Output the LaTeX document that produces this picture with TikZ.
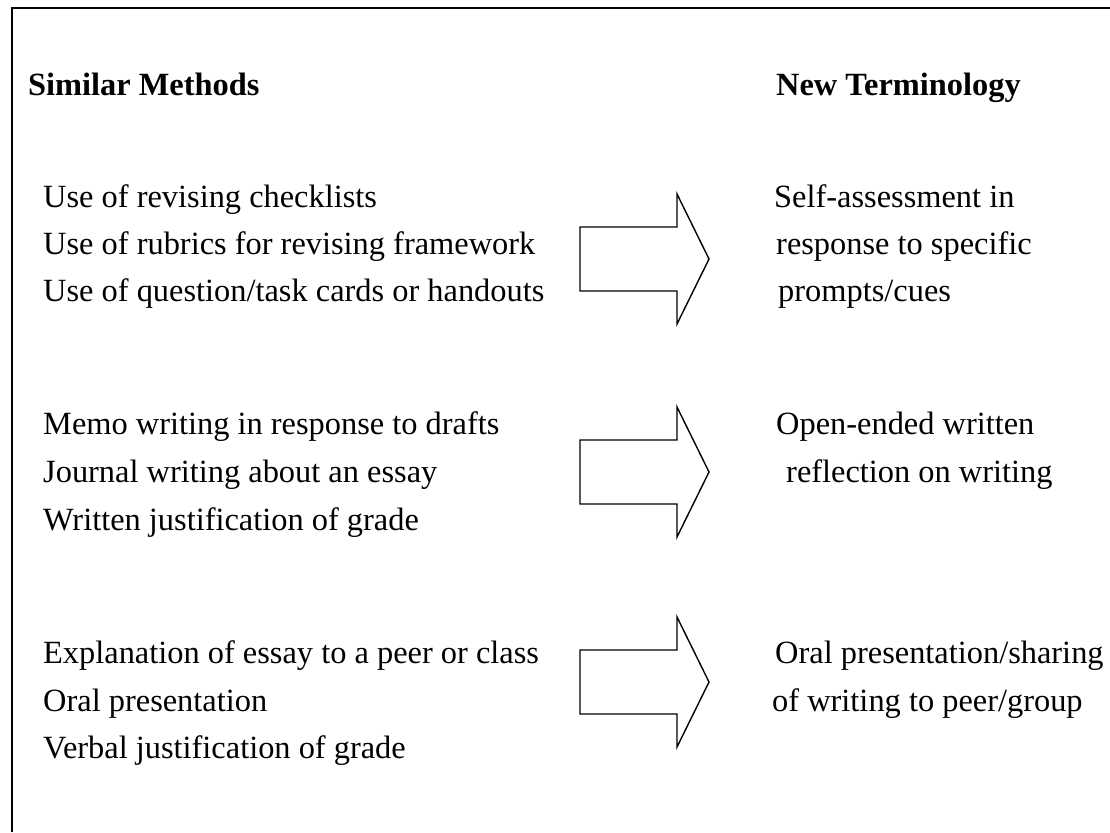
\documentclass[tikz,border=0pt]{standalone}
\usepackage{fontspec}
\setmainfont{Liberation Serif}
\begin{document}
\begin{tikzpicture}[x=1pt,y=1pt,
  txt/.style={anchor=base west, inner sep=0pt, font=\fontsize{32.4}{39}\selectfont},
  hd/.style={txt, font=\fontsize{32.4}{39}\selectfont\bfseries},
  bigarrow/.style={draw=black, line width=1.4pt, line join=miter}]
\useasboundingbox (0,0) rectangle (1110,-832);
% frame (cropped at right and bottom)
\draw[line width=2.6pt] (12,-832) -- (12,-8) -- (1110,-8);
% headings
\node[hd] (h1) at (28,-96) {Similar Methods};
\node[hd] (h2) at (776,-96) {New Terminology};
% block 1
\node[txt] (a1) at (43,-207) {Use of revising checklists};
\node[txt] (a2) at (43,-254) {Use of rubrics for revising framework};
\node[txt] (a3) at (43,-301) {Use of question/task cards or handouts};
\node[txt] (r1) at (774,-207) {Self-assessment in};
\node[txt] (r2) at (776,-254) {response to specific};
\node[txt] (r3) at (778,-301) {prompts/cues};
% block 2
\node[txt] (b1) at (43,-434) {Memo writing in response to drafts};
\node[txt] (b2) at (43,-482) {Journal writing about an essay};
\node[txt] (b3) at (43,-530) {Written justification of grade};
\node[txt] (s1) at (776,-434) {Open-ended written};
\node[txt] (s2) at (786,-482) {reflection on writing};
% block 3
\node[txt] (c1) at (43,-663) {Explanation of essay to a peer or class};
\node[txt] (c2) at (43,-711) {Oral presentation};
\node[txt] (c3) at (43,-758) {Verbal justification of grade};
\node[txt] (t1) at (775,-663) {Oral presentation/sharing};
\node[txt] (t2) at (772,-711) {of writing to peer/group};
% block arrows
\foreach \cy in {259,472,682}{
  \draw[bigarrow] (580,-\cy+32) -- (677,-\cy+32) -- (677,-\cy+65) -- (709,-\cy)
    -- (677,-\cy-65) -- (677,-\cy-32) -- (580,-\cy-32) -- cycle;
}
\end{tikzpicture}
\end{document}
